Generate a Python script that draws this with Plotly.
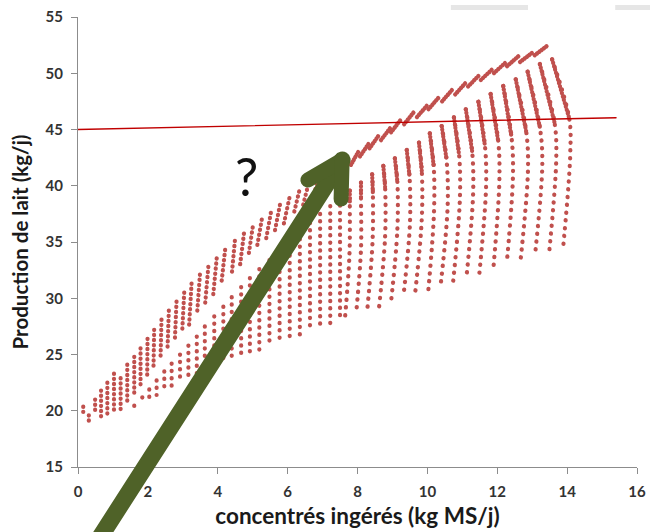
import plotly.graph_objects as go

# ---------------- data ----------------
# Lower band, left part: straight columns of points (x, top y, bottom y)
low_col_x = [1.61, 1.84, 2.04, 2.25, 2.47, 2.68, 2.92, 3.16, 3.40, 3.63, 3.90, 4.16,
             4.40, 4.67, 4.92, 5.19, 5.48, 5.77, 6.06, 6.35, 6.64, 6.93, 7.22, 7.50]
low_col_top = [20.45, 21.2, 21.9, 22.7, 23.5, 24.2, 25.0, 25.8, 26.6, 27.5, 28.4, 29.25,
               30.1, 31.0, 31.8, 32.6, 33.4, 34.3, 35.1, 35.9, 36.7, 37.5, 38.2, 38.9]
low_col_bot = [20.25, 20.75, 21.05, 21.4, 21.75, 22.1, 22.45, 22.8, 23.15, 23.45, 23.8, 24.1,
               24.4, 24.7, 25.0, 25.35, 25.7, 26.05, 26.4, 26.7, 27.05, 27.4, 27.75, 28.0]

# Lower band, right part: curved arcs (top, end of dense part, middle, bottom)
arc_top_x = [13.57, 13.22, 12.87, 12.53, 12.17, 11.81, 11.46, 11.10, 10.76,
             10.41, 10.07, 9.76, 9.41, 9.07, 8.74, 8.42, 8.10, 7.78]
arc_top_y = [51.24, 50.82, 50.14, 49.46, 48.87, 48.16, 47.47, 46.80, 46.08,
             45.31, 44.66, 43.83, 43.18, 42.44, 41.76, 41.02, 40.27, 39.56]
arc_dense_x = [14.06, 13.64, 13.22, 12.83, 12.41, 12.03, 11.65, 11.28, 10.91,
               10.55, 10.18, 9.84, 9.49, 9.14, 8.79, 8.44, 8.10, 7.78]
arc_dense_y = [46.0, 45.6, 45.2, 44.8, 44.3, 43.9, 43.5, 43.1, 42.7,
               42.3, 41.8, 41.3, 40.8, 40.4, 39.9, 39.4, 38.9, 38.5]
arc_mid_x = [14.09, 13.69, 13.29, 12.88, 12.45, 12.06, 11.68, 11.31, 10.93,
             10.58, 10.19, 9.84, 9.50, 9.14, 8.79, 8.43, 8.10, 7.77]
arc_mid_y = [42.9, 42.5, 42.0, 41.5, 40.95, 40.4, 39.9, 39.36, 38.8,
             38.2, 37.7, 37.1, 36.6, 36.05, 35.5, 35.0, 34.4, 33.9]
arc_bot_x = [13.89, 13.49, 13.08, 12.67, 12.27, 11.89, 11.49, 11.12, 10.74,
             10.38, 10.03, 9.65, 9.31, 8.96, 8.62, 8.28, 7.96, 7.64]
arc_bot_y = [34.64, 34.20, 33.82, 33.46, 33.04, 32.69, 32.27, 31.92, 31.56,
             31.18, 30.80, 30.44, 30.05, 29.67, 29.28, 28.96, 28.60, 28.18]

# Upper band, left part: dotted strands (top point, bottom point)
up_top_x = [0.15, 0.31, 0.49, 0.66, 0.84, 1.03, 1.22, 1.41, 1.61, 1.79, 1.99, 2.18,
            2.39, 2.60, 2.82, 3.04, 3.25, 3.49, 3.73, 3.97, 4.21, 4.49, 4.75, 5.00,
            5.26, 5.52, 5.78, 6.05, 6.33, 6.59, 6.88, 7.16, 7.45, 7.73]
up_top_y = [20.36, 19.6, 21.0, 21.8, 22.5, 23.3, 22.9, 24.1, 24.8, 25.55, 26.4, 27.2,
            28.1, 28.9, 29.7, 30.5, 31.3, 32.1, 32.8, 33.55, 34.3, 35.1, 35.75, 36.3,
            37.0, 37.6, 38.3, 38.9, 39.5, 40.1, 40.6, 41.3, 41.9, 42.4]
up_bot_x = [0.15, 0.31, 0.49, 0.66, 0.84, 1.03, 1.22, 1.41, 1.61, 1.79, 1.98, 2.16,
            2.36, 2.56, 2.77, 2.98, 3.18, 3.41, 3.64, 3.87, 4.10, 4.40, 4.64, 4.88,
            5.12, 5.38, 5.63, 5.89, 6.16, 6.42, 6.70, 6.97, 7.28, 7.54]
up_bot_y = [19.9, 18.7, 19.8, 19.1, 19.5, 19.8, 20.1, 20.8, 21.55, 22.1, 23.0, 23.8,
            24.5, 25.4, 26.1, 26.9, 27.6, 28.7, 29.55, 30.3, 31.2, 32.1, 33.0, 33.8,
            34.5, 35.2, 35.9, 36.6, 37.3, 38.0, 38.7, 39.4, 40.4, 41.1]

# Upper band, right part: short dense dashes (top point, bottom point)
dash_top_x = [8.02, 8.31, 8.59, 8.93, 9.22, 9.60, 9.98, 10.31, 10.70, 11.08, 11.46,
              11.84, 12.22, 12.60, 12.99, 13.41]
dash_top_y = [43.0, 43.7, 44.4, 45.1, 45.8, 46.5, 47.1, 47.8, 48.5, 49.1, 49.76,
              50.3, 50.9, 51.5, 51.8, 52.4]
dash_bot_x = [7.80, 8.07, 8.34, 8.67, 8.96, 9.33, 9.70, 10.03, 10.42, 10.79, 11.16,
              11.53, 11.90, 12.27, 12.65, 13.07]
dash_bot_y = [41.8, 42.6, 43.3, 44.05, 44.75, 45.45, 46.1, 46.8, 47.5, 48.1, 48.8,
              49.4, 50.0, 50.6, 51.0, 51.6]

# Horizontal reference line
ref_x = [0.0, 15.4]
ref_y = [45.0, 46.05]

# Green arrow (tail, tip, two head arms) in data units
arrow_x = [0.21, 7.56, 6.58, 7.53]
arrow_y = [6.73, 42.29, 40.51, 38.82]

question_x = [4.83]
question_y = [40.9]

x_ticks = [0, 2, 4, 6, 8, 10, 12, 14, 16]
y_ticks = [15, 20, 25, 30, 35, 40, 45, 50, 55]
x_range = [0, 16]
y_range = [15, 55]

# ---------------- figure ----------------
DOT = "#C0504D"
GREEN = "#4F6228"
FONT = "Lato"


def join(*segments):
    xs, ys = [], []
    for sx, sy in segments:
        xs += list(sx) + [None]
        ys += list(sy) + [None]
    return xs, ys


fig = go.Figure()

# lower band columns
xs, ys = join(*[([x, x], [t, b]) for x, t, b in zip(low_col_x, low_col_top, low_col_bot)])
fig.add_trace(go.Scatter(x=xs, y=ys, mode="lines", hoverinfo="skip",
                         line=dict(color=DOT, width=4.2, dash="0.3px,7px")))

# lower band arcs
xs, ys = join(*[([a, b, c, d], [e, f, g, h]) for a, b, c, d, e, f, g, h in
                zip(arc_top_x, arc_dense_x, arc_mid_x, arc_bot_x,
                    arc_top_y, arc_dense_y, arc_mid_y, arc_bot_y)])
fig.add_trace(go.Scatter(x=xs, y=ys, mode="lines", hoverinfo="skip",
                         line=dict(color=DOT, width=4.2, dash="0.3px,7.5px",
                                   shape="spline", smoothing=1)))
xs, ys = join(*[([a, b], [c, d]) for a, b, c, d in
                zip(arc_top_x, arc_dense_x, arc_top_y, arc_dense_y)])
fig.add_trace(go.Scatter(x=xs, y=ys, mode="lines", hoverinfo="skip",
                         line=dict(color=DOT, width=4.2, dash="0.3px,3.2px")))

# upper band strands
xs, ys = join(*[([a, b], [c, d]) for a, b, c, d in zip(up_top_x, up_bot_x, up_top_y, up_bot_y)])
fig.add_trace(go.Scatter(x=xs, y=ys, mode="lines", hoverinfo="skip",
                         line=dict(color=DOT, width=4.2, dash="0.3px,4.8px")))
xs, ys = join(*[([a, b], [c, d]) for a, b, c, d in
                zip(dash_top_x, dash_bot_x, dash_top_y, dash_bot_y)])
fig.add_trace(go.Scatter(x=xs, y=ys, mode="lines", hoverinfo="skip",
                         line=dict(color=DOT, width=4.3, dash="0.3px,2.6px")))

# red reference line
fig.add_trace(go.Scatter(x=ref_x, y=ref_y, mode="lines", hoverinfo="skip",
                         line=dict(color="#C00000", width=1.4)))


def px(v):
    return (v - x_range[0]) / (x_range[1] - x_range[0])


def py(v):
    return (v - y_range[0]) / (y_range[1] - y_range[0])


shapes = []
# shaft
shapes.append(dict(type="line", xref="paper", yref="paper",
                   x0=px(arrow_x[0]), y0=py(arrow_y[0]), x1=px(arrow_x[1]), y1=py(arrow_y[1]),
                   line=dict(color=GREEN, width=17)))
# head arms
for i in (2, 3):
    shapes.append(dict(type="line", xref="paper", yref="paper",
                       x0=px(arrow_x[1]), y0=py(arrow_y[1]), x1=px(arrow_x[i]), y1=py(arrow_y[i]),
                       line=dict(color=GREEN, width=15)))
# faint grey slide decorations along the top edge
for x0, x1 in ((0.667, 0.805), (0.961, 1.03)):
    shapes.append(dict(type="rect", xref="paper", yref="paper", x0=x0, x1=x1,
                       y0=1.0156, y1=1.0267, line=dict(width=0), fillcolor="#e6e6e6",
                       layer="below"))

fig.update_layout(
    width=650, height=532,
    margin=dict(l=78, r=13, t=17, b=65, autoexpand=False),
    paper_bgcolor="white", plot_bgcolor="white",
    showlegend=False,
    shapes=shapes,
    annotations=[dict(x=question_x[0], y=question_y[0], xref="x", yref="y", text="?",
                      showarrow=False, font=dict(family=FONT, size=52, color="#111111"))],
    xaxis=dict(range=x_range, tickvals=x_ticks, showgrid=False, zeroline=False,
               automargin=False,
               showline=True, linecolor="#8c8c8c", linewidth=1,
               ticks="outside", ticklen=6, tickcolor="#8c8c8c",
               ticklabelstandoff=5,
               tickfont=dict(family=FONT, size=15, color="#333333", weight="bold"),
               title=dict(text="concentrés ingérés (kg MS/j)", standoff=9,
                          font=dict(family=FONT, size=22.5, color="#1a1a1a", weight="bold"))),
    yaxis=dict(range=y_range, tickvals=y_ticks, showgrid=False, zeroline=False,
               automargin=False,
               showline=True, linecolor="#8c8c8c", linewidth=1,
               ticks="outside", ticklen=6, tickcolor="#8c8c8c",
               ticklabelstandoff=5,
               tickfont=dict(family=FONT, size=15, color="#333333", weight="bold"),
               title=dict(text="Production de lait (kg/j)", standoff=11,
                          font=dict(family=FONT, size=20.5, color="#1a1a1a", weight="bold"))),
)

post = """
document.body.style.margin = '0';
document.body.style.padding = '0';
var gd = document.getElementById('{plot_id}');
gd.querySelectorAll('path.js-line, .shapelayer path').forEach(function(p){
  p.style.strokeLinecap = 'round'; p.style.strokeLinejoin = 'round';
});
"""

fig.write_html("out.html", post_script=post, config={"displayModeBar": False})
